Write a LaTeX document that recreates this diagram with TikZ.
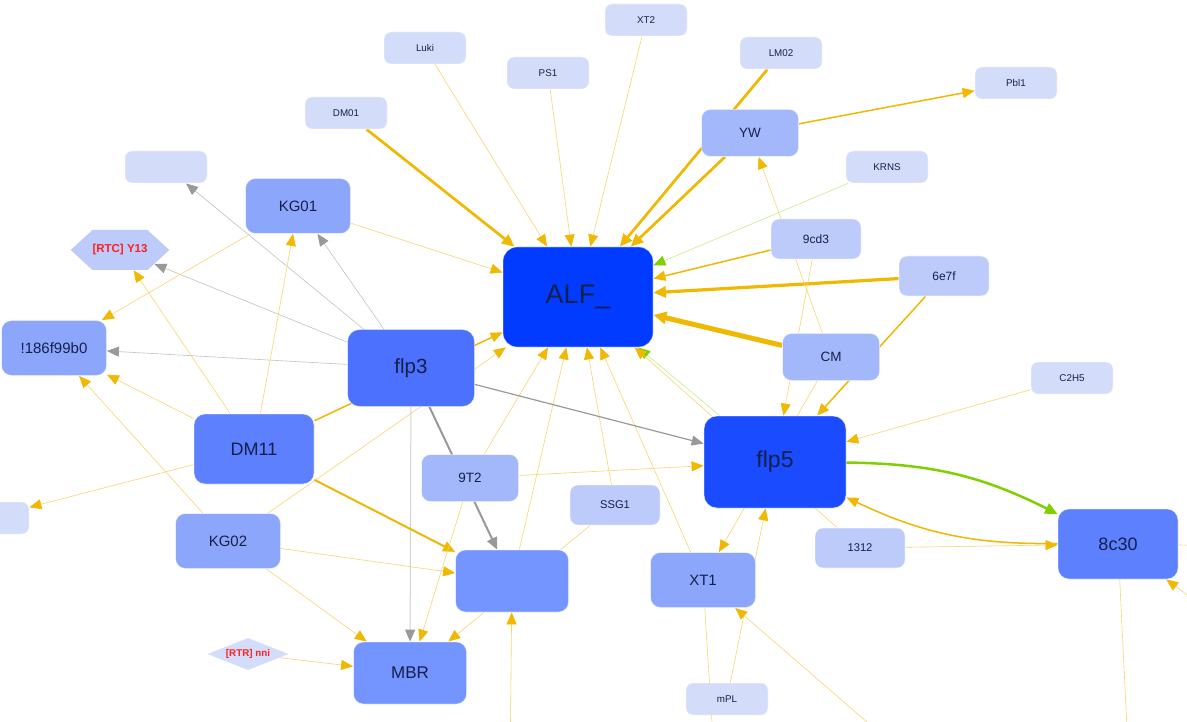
\documentclass[tikz,border=0pt]{standalone}
\usepackage{fontspec}
\setmainfont{Liberation Sans}
\usetikzlibrary{arrows.meta, shapes.geometric, shapes.symbols}
\definecolor{BoxA}{HTML}{003BFF}
\definecolor{BoxB}{HTML}{1A4BFF}
\definecolor{BoxC}{HTML}{4B71FE}
\definecolor{BoxD}{HTML}{5C80FE}
\definecolor{BoxE}{HTML}{7494FF}
\definecolor{BoxF}{HTML}{8CA6FC}
\definecolor{BoxG}{HTML}{A3B7FB}
\definecolor{BoxH}{HTML}{BDCBFA}
\definecolor{BoxI}{HTML}{D3DCF9}
\definecolor{LabelInk}{HTML}{15204A}
\definecolor{LabelRed}{HTML}{FF1F1F}
\definecolor{LinkYellow}{HTML}{F0B800}
\definecolor{LinkPale}{HTML}{F7D670}
\definecolor{LinkGreen}{HTML}{80D000}
\definecolor{LinkGreenPale}{HTML}{C8EB8A}
\definecolor{LinkGray}{HTML}{999999}
\definecolor{LinkGrayPale}{HTML}{C2C2C2}
\definecolor{LinkSilver}{HTML}{D2D2D2}
\pgfdeclarelayer{paper}
\pgfdeclarelayer{links}
\pgfsetlayers{paper,links,main}

\begin{document}
\begin{tikzpicture}[x = 1pt, y = -1pt]%
    %
    \tikzstyle{box} = [rectangle, draw = white, draw opacity = 0.5, line width = 0.8pt, text = LabelInk, inner sep = 0pt]%
    \tikzstyle{rankA} = [box, fill = BoxA, rounded corners = 14pt, minimum width = 150pt, minimum height = 100pt, font = \fontsize{27}{30}\selectfont]%
    \tikzstyle{rankB} = [box, fill = BoxB, rounded corners = 13pt, minimum width = 142pt, minimum height = 92pt, font = \fontsize{23}{26}\selectfont]%
    \tikzstyle{rankC} = [box, fill = BoxC, rounded corners = 12pt, minimum width = 127pt, minimum height = 77pt, font = \fontsize{20.5}{23}\selectfont]%
    \tikzstyle{rankD} = [box, fill = BoxD, rounded corners = 11pt, minimum width = 120pt, minimum height = 70pt, font = \fontsize{18}{21}\selectfont]%
    \tikzstyle{rankE} = [box, fill = BoxE, rounded corners = 10pt, minimum width = 113pt, minimum height = 62pt, font = \fontsize{17}{20}\selectfont]%
    \tikzstyle{rankF} = [box, fill = BoxF, rounded corners = 10pt, minimum width = 105pt, minimum height = 55pt, font = \fontsize{15}{18}\selectfont]%
    \tikzstyle{rankG} = [box, fill = BoxG, rounded corners = 9pt, minimum width = 97pt, minimum height = 47pt, font = \fontsize{13.5}{16}\selectfont]%
    \tikzstyle{rankH} = [box, fill = BoxH, rounded corners = 8pt, minimum width = 90pt, minimum height = 40pt, font = \fontsize{12}{14}\selectfont]%
    \tikzstyle{rankI} = [box, fill = BoxI, rounded corners = 7pt, minimum width = 82pt, minimum height = 32pt, font = \fontsize{9.8}{12}\selectfont]%
    \tikzstyle{hexa} = [signal, signal to = east and west, signal pointer angle = 85, fill = BoxH, draw = none, inner sep = 0pt, minimum width = 90pt, minimum height = 40pt, text = LabelRed, font = \fontsize{11.5}{13}\selectfont\bfseries]%
    \tikzstyle{rhomb} = [diamond, aspect = 2.5, fill = BoxI, draw = none, inner sep = 0pt, minimum width = 81pt, minimum height = 32pt, text = LabelRed, font = \fontsize{9.8}{11}\selectfont\bfseries]%
    %
    \tikzstyle{linkY} = [line width = 0.6pt, draw = LinkPale, -{Triangle[length = 12pt, width = 10pt, color = LinkYellow]}]%
    \tikzstyle{linkYmid} = [line width = 1.5pt, draw = LinkYellow, -{Triangle[length = 12pt, width = 10pt]}]%
    \tikzstyle{linkYbold} = [line width = 2pt, draw = LinkYellow, -{Triangle[length = 12pt, width = 10.5pt]}]%
    \tikzstyle{linkYthick} = [line width = 2.7pt, draw = LinkYellow, -{Triangle[length = 12.5pt, width = 11pt]}]%
    \tikzstyle{linkYheavy} = [line width = 5pt, draw = LinkYellow, -{Triangle[length = 13pt, width = 12pt]}]%
    \tikzstyle{plainY} = [line width = 0.6pt, draw = LinkPale]%
    \tikzstyle{linkGray} = [line width = 0.6pt, draw = LinkGrayPale, -{Triangle[length = 12pt, width = 10pt, color = LinkGray]}]%
    \tikzstyle{linkGraymid} = [line width = 1.2pt, draw = LinkGray, -{Triangle[length = 12pt, width = 10pt]}]%
    \tikzstyle{linkGraybold} = [line width = 2pt, draw = LinkGray, -{Triangle[length = 12pt, width = 10.5pt]}]%
    \tikzstyle{linkSilver} = [line width = 1pt, draw = LinkSilver, -{Triangle[length = 12pt, width = 10pt, color = LinkGray]}]%
    \tikzstyle{linkGreen} = [line width = 0.6pt, draw = LinkGreenPale, -{Triangle[length = 12pt, width = 10pt, color = LinkGreen]}]%
    \tikzstyle{linkGreenthick} = [line width = 2.5pt, draw = LinkGreen, -{Triangle[length = 12.5pt, width = 11pt]}]%
    %
    \useasboundingbox (0, 0) rectangle (1187, 722);%
    \begin{pgfonlayer}{paper}%
        \fill [white] (0, 0) rectangle (1187, 722);%
    \end{pgfonlayer}%
    %
    % Hubs
    \node (alf) [rankA] at (578, 297) {ALF\_};%
    \node (flp5) [rankB] at (775, 462) {flp5};%
    \node (flp3) [rankC] at (411, 368) {flp3};%
    \node (dm11) [rankD] at (254, 449) {DM11};%
    \node (n8c30) [rankD] at (1118, 544) {8c30};%
    \node (hub) [rankE] at (512, 581) {};%
    \node (mbr) [rankE] at (410, 673) {MBR};%
    %
    % Middle ring
    \node (kg01) [rankF] at (298, 206) {KG01};%
    \node (kg02) [rankF] at (228, 541) {KG02};%
    \node (n186) [rankF] at (54, 348) {!186f99b0};%
    \node (xt1) [rankF] at (703, 580) {XT1};%
    \node (yw) [rankG] at (750, 133) {YW};%
    \node (cm) [rankG] at (831, 357) {CM};%
    \node (n9t2) [rankG] at (470, 478) {9T2};%
    \node (n9cd3) [rankH] at (816, 239) {9cd3};%
    \node (n6e7f) [rankH] at (944, 276) {6e7f};%
    \node (ssg1) [rankH, font = \fontsize{11.2}{13}\selectfont] at (615, 505) {SSG1};%
    \node (n1312) [rankH, font = \fontsize{11.2}{13}\selectfont] at (860, 548) {1312};%
    \node (y13) [hexa] at (120, 250) {[RTC] Y13};%
    %
    % Leaves
    \node (xt2) [rankI] at (646, 20) {XT2};%
    \node (luki) [rankI] at (425, 48) {Luki};%
    \node (ps1) [rankI] at (548, 73) {PS1};%
    \node (lm02) [rankI] at (781, 53) {LM02};%
    \node (pbl1) [rankI] at (1016, 83) {Pbl1};%
    \node (dm01) [rankI] at (346, 113) {DM01};%
    \node (krns) [rankI] at (887, 167) {KRNS};%
    \node (ghost) [rankI] at (166, 167) {};%
    \node (c2h5) [rankI] at (1072, 378) {C2H5};%
    \node (stub) [rankI] at (-12, 518) {};%
    \node (mpl) [rankI] at (727, 699) {mPL};%
    \node (nni) [rhomb] at (248, 654) {[RTR] nni};%
    %
    % Ends beyond the page
    \coordinate (offA) at (510, 770);%
    \coordinate (offB) at (905, 755);%
    \coordinate (offC) at (715, 770);%
    \coordinate (offD) at (1129, 770);%
    \coordinate (offE) at (1240, 546);%
    \coordinate (offF) at (1235, 630);%
    %
    \begin{pgfonlayer}{links}%
    %
    % Into ALF_
    \draw [linkYthick] (dm01) -- (alf);%
    \draw [linkY] (luki) -- (alf);%
    \draw [linkY] (ps1) -- (alf);%
    \draw [linkY] (xt2) -- (alf);%
    \draw [linkYthick] (lm02) -- (alf);%
    \draw [linkYthick] (yw) -- (alf);%
    \draw [linkGreen] (krns) -- (alf);%
    \draw [linkYmid] (n9cd3) -- (alf);%
    \draw [linkYthick, line width = 3.2pt] (n6e7f) -- (alf);%
    \draw [linkYheavy] (cm) -- (alf);%
    \draw [linkGreen] (flp5) -- (alf);%
    \draw [linkY] (n1312) -- (alf);%
    \draw [linkY] (xt1) -- (alf);%
    \draw [linkY] (ssg1) -- (alf);%
    \draw [linkY] (hub) -- (alf);%
    \draw [linkY] (n9t2) -- (alf);%
    \draw [linkY] (kg02) -- (alf);%
    \draw [linkYmid] (dm11) -- (alf);%
    \draw [linkY] (kg01) -- (alf);%
    %
    % Out of flp3
    \draw [linkGray] (flp3) -- (ghost);%
    \draw [linkGray] (flp3) -- (kg01);%
    \draw [linkGray] (flp3) -- (y13);%
    \draw [linkGray] (flp3) -- (n186);%
    \draw [linkGraymid] (flp3) -- (flp5);%
    \draw [linkGraybold] (flp3) -- (hub);%
    \draw [linkSilver] (flp3) -- (mbr);%
    %
    % Left side
    \draw [linkY] (kg01) -- (n186);%
    \draw [linkY] (dm11) -- (n186);%
    \draw [linkY] (kg02) -- (n186);%
    \draw [linkY] (dm11) -- (y13);%
    \draw [linkY] (dm11) -- (kg01);%
    \draw [linkY] (dm11) -- (stub);%
    \draw [linkYbold] (dm11) -- (hub);%
    \draw [linkY] (kg02) -- (hub);%
    \draw [linkY] (offA) -- (hub);%
    %
    % Into MBR
    \draw [linkY] (kg02) -- (mbr);%
    \draw [linkY] (nni) -- (mbr);%
    \draw [linkY] (n9t2) -- (mbr);%
    \draw [linkY] (ssg1) -- (mbr);%
    %
    % Around flp5
    \draw [linkY] (n9t2) -- (flp5);%
    \draw [linkY] (n9cd3) -- (flp5);%
    \draw [linkYmid] (n6e7f) -- (flp5);%
    \draw [linkY] (c2h5) -- (flp5);%
    \draw [linkY] (mpl) -- (flp5);%
    \draw [linkY] (cm) -- (xt1);%
    \draw [linkY] (cm) -- (yw);%
    \draw [linkY] (offB) -- (xt1);%
    \draw [plainY] (xt1) -- (offC);%
    \draw [linkYmid] (yw) -- (pbl1);%
    %
    % Around 8c30
    \draw [linkGreenthick] (flp5) to [bend left = 13] (n8c30);%
    \draw [linkYmid] (n8c30) to [bend left = 13] (flp5);%
    \draw [linkY] (n1312) -- (n8c30);%
    \draw [linkY] (offF) -- (n8c30);%
    \draw [plainY] (n8c30) -- (offD);%
    \draw [plainY] (n8c30) -- (offE);%
    %
    \end{pgfonlayer}%
    %
\end{tikzpicture}
\end{document}
